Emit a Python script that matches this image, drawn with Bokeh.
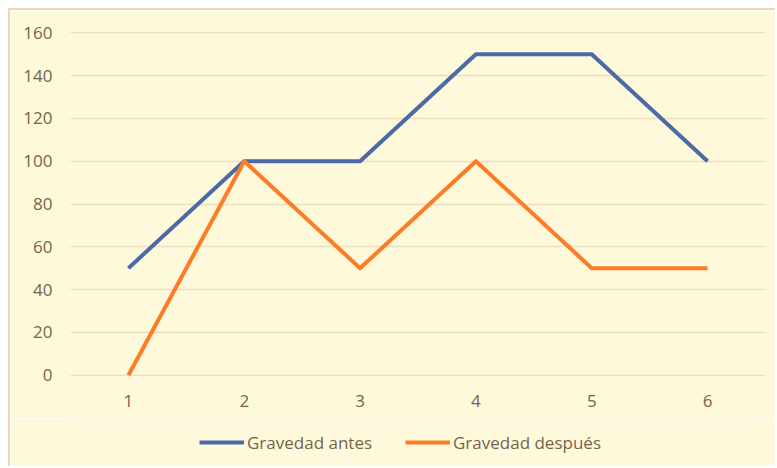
from bokeh.plotting import figure
from bokeh.models import Range1d, FactorRange, Legend, LegendItem
from bokeh.layouts import column
from bokeh.embed import file_html
from bokeh.resources import INLINE

categories = ["1", "2", "3", "4", "5", "6"]
gravedad_antes = [50, 100, 100, 150, 150, 100]
gravedad_despues = [0, 100, 50, 100, 50, 50]
y_ticks = [0, 20, 40, 60, 80, 100, 120, 140, 160]
series_names = ["Gravedad antes", "Gravedad después"]

BG = "#FFF9DB"
GRID = "#F0DCC0"
EDGE = "#F2D6B3"
TEXT = "#76634F"
BLUE = "#4A6BA6"
ORANGE = "#FF7C26"
FONT = "Open Sans"

# main chart
p = figure(width=767, height=410, output_backend="svg", toolbar_location=None,
           x_range=FactorRange(*categories, range_padding=0),
           y_range=Range1d(-0.6, 160.6),
           min_border_left=60, min_border_right=12, min_border_top=21, min_border_bottom=44)
p.margin = (8, 0, 0, 8)
p.styles = {"border-left": "2px solid " + EDGE, "border-top": "2px solid " + EDGE}
p.background_fill_color = BG
p.border_fill_color = BG
p.outline_line_color = None

p.line(categories, gravedad_antes, line_color=BLUE, line_width=4, line_join="round")
p.line(categories, gravedad_despues, line_color=ORANGE, line_width=4, line_join="round")

p.xgrid.grid_line_color = None
p.ygrid.grid_line_color = GRID
p.ygrid.grid_line_width = 1.5
p.yaxis.ticker = y_ticks

for ax in (p.xaxis, p.yaxis):
    ax.axis_line_color = None
    ax.major_tick_line_color = None
    ax.minor_tick_line_color = None
    ax.major_label_text_color = TEXT
    ax.major_label_text_font = FONT
    ax.major_label_text_font_size = "17px"
p.yaxis.major_label_standoff = 12
p.xaxis.major_label_standoff = 12

# legend strip (same series, drawn outside its visible range so only the legend shows)
q = figure(width=767, height=48, output_backend="svg", toolbar_location=None,
           x_range=FactorRange(*categories, range_padding=0),
           y_range=Range1d(1000, 1001),
           x_axis_location=None, y_axis_location=None, min_border=0)
q.margin = (0, 0, 0, 8)
q.styles = {"border-left": "2px solid " + EDGE}
q.background_fill_color = BG
q.border_fill_color = BG
q.outline_line_color = None
q.grid.grid_line_color = None
k1 = q.line(categories, gravedad_antes, line_color=BLUE, line_width=4)
k2 = q.line(categories, gravedad_despues, line_color=ORANGE, line_width=4)

for r, name, x in ((k1, series_names[0], 129), (k2, series_names[1], 335)):
    lg = Legend(items=[LegendItem(label=name, renderers=[r])],
                location=(x, 12), orientation="horizontal",
                glyph_width=45, glyph_height=24, label_height=24, label_standoff=3,
                padding=0, margin=0,
                border_line_color=None, background_fill_alpha=0,
                label_text_color=TEXT, label_text_font=FONT, label_text_font_size="17px")
    q.add_layout(lg, "center")

layout = column(p, q, spacing=0)
open("out.html", "w").write(file_html(layout, INLINE))
